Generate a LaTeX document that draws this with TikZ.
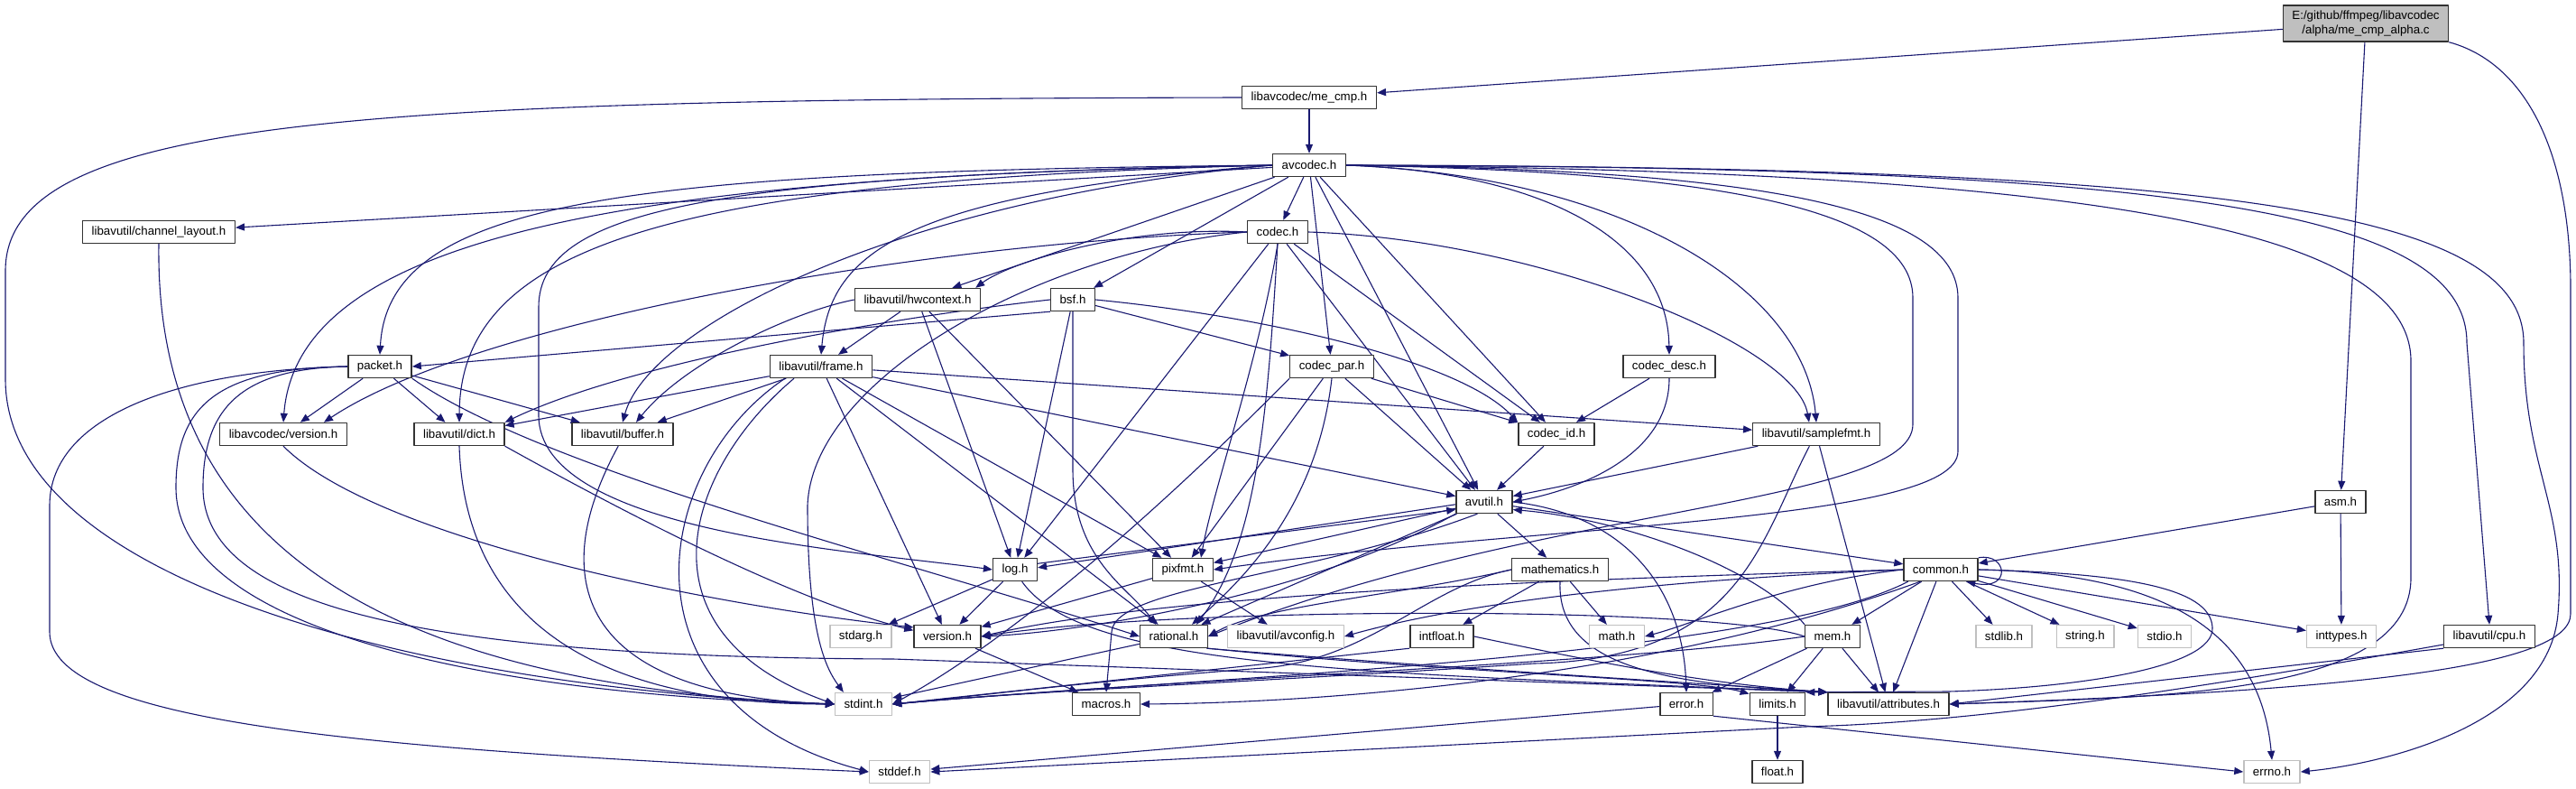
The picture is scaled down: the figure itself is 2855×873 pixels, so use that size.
\documentclass[tikz,border=0pt]{standalone}
\usepackage{fontspec}
\setmainfont{Liberation Sans}
\usetikzlibrary{arrows.meta,backgrounds}
\definecolor{edgeblue}{HTML}{191970}
\definecolor{srcgray}{HTML}{BFBFBF}
\definecolor{sysline}{HTML}{C0C0C0}
\definecolor{hdrline}{HTML}{333333}
\tikzset{
  hdr/.style={draw=hdrline, line width=1.4pt, fill=white, minimum height=25pt,
    inner xsep=10pt, inner ysep=0pt, font=\fontsize{13.3}{15.5}\selectfont},
  sys/.style={hdr, draw=sysline},
  dep/.style={draw=edgeblue, line width=1.1pt, -{Triangle[length=10pt,width=8pt]}},
}
\begin{document}
\begin{tikzpicture}[x=1pt, y=-1pt, line join=round]
\useasboundingbox (0,0) rectangle (2855,873);
\path (2622,26) node[hdr, fill=srcgray, align=center, minimum height=40pt] (src) {E:/github/ffmpeg/libavcodec\\/alpha/me\_cmp\_alpha.c}
  (1451,108) node[hdr] (mecmp) {libavcodec/me\_cmp.h}
  (1451,183) node[hdr] (avcodec) {avcodec.h}
  (176,257) node[hdr] (chlayout) {libavutil/channel\_layout.h}
  (1416,257) node[hdr] (codec) {codec.h}
  (1017,332) node[hdr] (hwctx) {libavutil/hwcontext.h}
  (1189,332) node[hdr] (bsf) {bsf.h}
  (421,406) node[hdr] (packet) {packet.h}
  (910,406) node[hdr] (frame) {libavutil/frame.h}
  (1476,406) node[hdr] (codecpar) {codec\_par.h}
  (1850,406) node[hdr] (codecdesc) {codec\_desc.h}
  (314,481) node[hdr] (lcversion) {libavcodec/version.h}
  (509,481) node[hdr] (dict) {libavutil/dict.h}
  (690,481) node[hdr] (buffer) {libavutil/buffer.h}
  (1725,481) node[hdr] (codecid) {codec\_id.h}
  (2013,481) node[hdr] (samplefmt) {libavutil/samplefmt.h}
  (1645,556) node[hdr] (avutil) {avutil.h}
  (2594,556) node[hdr] (asm) {asm.h}
  (1125,631) node[hdr] (log) {log.h}
  (1311,631) node[hdr] (pixfmt) {pixfmt.h}
  (1729,631) node[hdr] (mathematics) {mathematics.h}
  (2151,631) node[hdr] (common) {common.h}
  (954,705) node[sys] (stdarg) {stdarg.h}
  (1050,705) node[hdr] (version) {version.h}
  (1301,705) node[hdr] (rational) {rational.h}
  (1425,705) node[sys] (avconfig) {libavutil/avconfig.h}
  (1598,705) node[hdr] (intfloat) {intfloat.h}
  (1792,705) node[sys] (mathh) {math.h}
  (2031,705) node[hdr] (mem) {mem.h}
  (2221,705) node[sys] (stdlib) {stdlib.h}
  (2311,705) node[sys] (stringh) {string.h}
  (2399,705) node[sys] (stdio) {stdio.h}
  (2595,705) node[sys] (inttypes) {inttypes.h}
  (2759,705) node[hdr] (cpu) {libavutil/cpu.h}
  (957,780) node[sys] (stdint) {stdint.h}
  (1226,780) node[hdr] (macros) {macros.h}
  (1869,780) node[hdr] (error) {error.h}
  (1970,780) node[hdr] (limits) {limits.h}
  (2093,780) node[hdr] (attributes) {libavutil/attributes.h}
  (997,855) node[sys] (stddef) {stddef.h}
  (1970,855) node[hdr] (floath) {float.h}
  (2518,855) node[sys] (errno) {errno.h};
\begin{scope}[on background layer]
\foreach \a/\b in {src/mecmp, src/asm, mecmp/avcodec,
  avcodec/chlayout, avcodec/hwctx, avcodec/bsf, avcodec/codec, avcodec/codecpar, avcodec/codecid, avcodec/avutil,
  codec/log, codec/avutil, codec/codecid, bsf/log, bsf/codecpar,
  hwctx/frame, hwctx/log, hwctx/pixfmt,
  frame/samplefmt, frame/avutil, frame/buffer, frame/dict, frame/pixfmt, frame/rational, frame/version,
  packet/lcversion, packet/dict, packet/buffer,
  codecpar/codecid, codecpar/avutil, codecpar/pixfmt, codecdesc/codecid, codecid/avutil,
  samplefmt/avutil, samplefmt/attributes,
  avutil/common, avutil/rational, avutil/mathematics, avutil/pixfmt,
  log/stdarg, log/version, pixfmt/avconfig, pixfmt/version,
  mathematics/mathh, mathematics/intfloat, rational/stdint, version/macros,
  common/mem, common/attributes, common/stdlib, common/stringh, common/stdio, common/inttypes,
  mem/limits, mem/attributes, mem/error, asm/common, asm/inttypes,
  error/stddef, limits/floath}
  \draw[dep] (\a) -- (\b);
\draw[dep] (src.south east) .. controls (2800,70) and (2849,170) .. (2849,320) -- (2849,680) .. controls (2849,740) and (2600,765) .. (attributes.east);
\draw[dep] (mecmp.west) .. controls (400,110) and (6,130) .. (6,300) -- (6,420) .. controls (6,640) and (450,760) .. (stdint.west);
\draw[dep] (avcodec.west) .. controls (700,190) and (430,220) .. (packet.north);
\draw[dep] (avcodec.west) .. controls (700,195) and (330,260) .. (lcversion.north);
\draw[dep] (avcodec.west) .. controls (750,200) and (510,270) .. (dict.north);
\draw[dep] (avcodec.west) .. controls (800,195) and (597,230) .. (597,340) -- (597,460) .. controls (597,590) and (950,610) .. (log.west);
\draw[dep] (avcodec.west) .. controls (1000,220) and (720,360) .. (buffer.north);
\draw[dep] (avcodec.west) .. controls (1000,215) and (920,280) .. (frame.north);
\draw[dep] (avcodec.east) .. controls (1700,190) and (1848,260) .. (codecdesc.north);
\draw[dep] (avcodec.east) .. controls (1800,195) and (2000,320) .. (samplefmt.north);
\draw[dep] (avcodec.east) .. controls (1900,190) and (2120,230) .. (2120,330) -- (2120,470) .. controls (2120,560) and (1700,560) .. (rational.east);
\draw[dep] (avcodec.east) .. controls (1950,188) and (2170,230) .. (2170,330) -- (2170,500) .. controls (2170,580) and (1700,580) .. (pixfmt.east);
\draw[dep] (avcodec.east) .. controls (2300,190) and (2672,250) .. (2672,400) -- (2672,640) .. controls (2672,770) and (2400,772) .. (attributes.east);
\draw[dep] (avcodec.east) .. controls (2400,185) and (2734,230) .. (2734,380) -- (cpu.north);
\draw[dep] (avcodec.east) .. controls (2450,185) and (2797,230) .. (2797,380) .. controls (2797,520) and (2845,560) .. (2835,680) .. controls (2825,800) and (2650,845) .. (errno.east);
\draw[dep] (codec.west) .. controls (1250,250) and (1120,290) .. ([xshift=-6pt]hwctx.north east);
\draw[dep] (codec.south) .. controls (1395,400) and (1345,540) .. ([xshift=20pt]pixfmt.north);
\draw[dep] (codec.south) .. controls (1405,450) and (1395,600) .. ([xshift=25pt]rational.north);
\draw[dep] (codec.east) .. controls (1700,265) and (1990,380) .. ([xshift=-8pt]samplefmt.north);
\draw[dep] (codec.west) .. controls (1000,270) and (520,360) .. ([xshift=45pt]lcversion.north);
\draw[dep] (codec.west) .. controls (1150,280) and (900,420) .. (895,560) .. controls (895,700) and (915,740) .. ([xshift=10pt]stdint.north west);
\draw[dep] (bsf.south west) -- (packet.east);
\draw[dep] (bsf.west) .. controls (1000,350) and (700,400) .. (dict.north east);
\draw[dep] (bsf.south) -- (1189,520) .. controls (1189,620) and (1250,650) .. ([xshift=-20pt]rational.north);
\draw[dep] (bsf.east) .. controls (1400,350) and (1620,400) .. (codecid.north west);
\draw[dep] (hwctx.west) .. controls (880,345) and (760,400) .. ([xshift=15pt]buffer.north);
\draw[dep] ([xshift=-30pt]frame.south) .. controls (760,520) and (700,700) .. (stdint.west);
\draw[dep] ([xshift=-40pt]frame.south) .. controls (720,520) and (680,780) .. (stddef.west);
\draw[dep] (packet.south east) .. controls (600,520) and (1000,620) .. (rational.west);
\draw[dep] (packet.west) .. controls (240,408) and (195,450) .. (195,540) .. controls (195,700) and (550,770) .. (stdint.west);
\draw[dep] (packet.west) .. controls (200,410) and (55,460) .. (55,560) -- (55,700) .. controls (55,800) and (400,830) .. (stddef.west);
\draw[dep] (packet.west) .. controls (270,408) and (225,450) .. (225,540) .. controls (225,680) and (500,728) .. (990,730) -- (attributes.north west);
\draw[dep] (lcversion.south) .. controls (420,600) and (800,672) .. (version.165);
\draw[dep] (dict.south east) .. controls (750,600) and (900,670) .. (version.170);
\draw[dep] (dict.south) .. controls (515,680) and (650,780) .. (stdint.west);
\draw[dep] (buffer.250) .. controls (600,650) and (650,770) .. (stdint.west);
\draw[dep] (chlayout.south) .. controls (171,620) and (450,760) .. (stdint.west);
\draw[dep] (codecpar.south) .. controls (1460,560) and (1380,640) .. ([xshift=20pt]rational.north);
\draw[dep] (codecpar.south west) .. controls (1250,600) and (1100,720) .. (stdint.east);
\draw[dep] (codecdesc.south) .. controls (1850,500) and (1760,540) .. (avutil.east);
\draw[dep] (samplefmt.240) .. controls (1950,600) and (1930,730) .. (1700,735) .. controls (1400,755) and (1150,765) .. (stdint.east);
\draw[dep] (avutil.185) -- (log.5);
\draw[dep] (log.15) -- (avutil.195);
\draw[dep] (avutil.east) .. controls (1800,570) and (1865,650) .. (error.north);
\draw[dep] (avutil.240) .. controls (1450,640) and (1235,650) .. (1232,700) -- (macros.north);
\draw[dep] (avutil.south west) .. controls (1450,660) and (1200,700) .. (version.east);
\draw[dep] (log.-60) .. controls (1200,740) and (1500,745) .. (attributes.north west);
\draw[dep] (mathematics.west) .. controls (1550,660) and (1400,670) .. (rational.east);
\draw[dep] (mathematics.west) .. controls (1580,650) and (1520,730) .. (1400,740) .. controls (1200,755) and (1050,775) .. (stdint.east);
\draw[dep] (mathematics.south) .. controls (1725,740) and (1850,758) .. (attributes.north west);
\draw[dep] (rational.south east) .. controls (1600,745) and (1880,752) .. (limits.160);
\draw[dep] (rational.-20) .. controls (1600,740) and (1900,758) .. (attributes.north west);
\draw[dep] (intfloat.south west) -- (stdint.east);
\draw[dep] (intfloat.east) .. controls (1800,740) and (1900,758) .. (attributes.north west);
\draw[dep] (common.west) .. controls (1980,645) and (1880,690) .. (mathh.east);
\draw[dep] (common.west) .. controls (1900,640) and (1650,660) .. (avconfig.east);
\draw[dep] (common.west) .. controls (1800,640) and (1300,655) .. (version.east);
\draw[dep] (common.200) .. controls (1950,730) and (1300,752) .. (stdint.east);
\draw[dep] (common.210) .. controls (1850,745) and (1500,778) .. (macros.east);
\draw[dep] (common.east) .. controls (2350,635) and (2450,650) .. (2452,695) .. controls (2455,740) and (2300,762) .. (2160,766) -- (limits.north east);
\draw[dep] (common.east) .. controls (2400,635) and (2505,700) .. (errno.north);
\draw[dep] (common.north east) .. controls (2225,612) and (2230,655) .. (common.-25);
\draw[dep] (mem.north west) .. controls (1950,630) and (1800,575) .. (avutil.-15);
\draw[dep] (mem.west) .. controls (1900,670) and (1300,672) .. (version.east);
\draw[dep] (mem.west) .. controls (1800,735) and (1300,752) .. (stdint.east);
\draw[dep] (cpu.south west) -- (attributes.east);
\draw[dep] (cpu.190) .. controls (2450,760) and (2200,800) .. (2000,805) -- (stddef.east);
\draw[dep] (error.south east) -- (errno.west);
\end{scope}
\end{tikzpicture}
\end{document}
